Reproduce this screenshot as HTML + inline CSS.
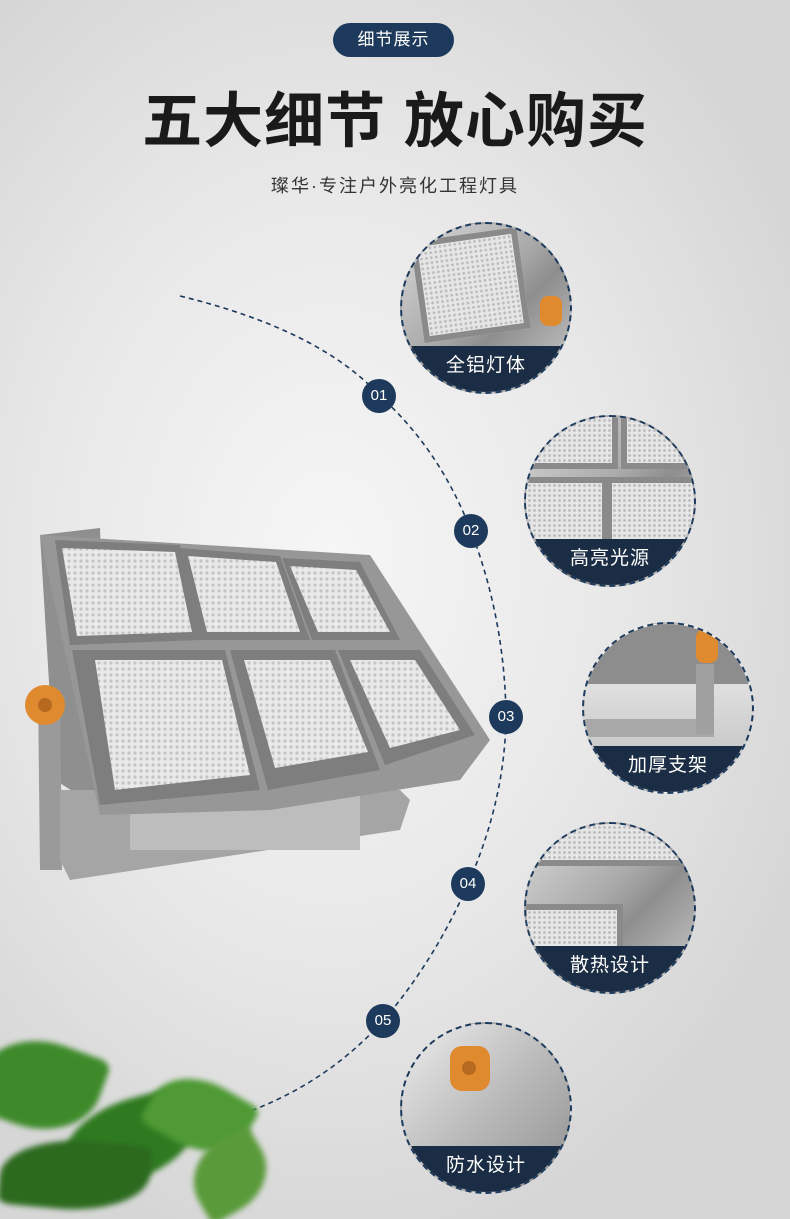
<!DOCTYPE html>
<html><head><meta charset="utf-8"><style>
html,body{margin:0;padding:0;width:790px;height:1219px;overflow:hidden}
body{position:relative;font-family:"Liberation Sans","Noto Sans CJK SC",sans-serif;
background:radial-gradient(ellipse 520px 700px at 330px 560px,#f6f6f6 0%,#e8e8e8 55%,#d6d6d6 100%);}
.pill{position:absolute;left:333px;top:23px;width:121px;height:34px;border-radius:17px;background:#1d3a5c;color:#fff;font-size:17px;line-height:34px;text-align:center;letter-spacing:1px}
.title{position:absolute;left:0;width:790px;top:84px;text-align:center;font-size:60px;font-weight:bold;color:#1a1a1a;letter-spacing:1px;line-height:76px}
.sub{position:absolute;left:0;width:790px;top:172px;text-align:center;font-size:18px;color:#333;letter-spacing:2px}
.dc{position:absolute;width:172px;height:172px;border-radius:50%;border:2px dashed #1d3a5c;overflow:hidden;box-sizing:border-box;
background:linear-gradient(135deg,#d9d9d9 0%,#a9a9a9 45%,#8e8e8e 60%,#cfcfcf 100%)}
.dc .hex{position:absolute;background-color:#e6e6e6;background-image:radial-gradient(circle,#bcbcbc 1.2px,transparent 1.6px);background-size:5px 5px;border:6px solid #8a8a8a}
.dc .band{position:absolute;left:0;right:0;bottom:0;height:46px;background:#1b2d44;color:#fff;font-size:19px;text-align:center;line-height:40px;letter-spacing:1px}
.num{position:absolute;width:34px;height:34px;border-radius:50%;background:#1d3a5c;color:#fff;font-size:15px;line-height:34px;text-align:center}
.leaf{position:absolute;border-radius:60% 10% 60% 10%;background:#3e8a2a;filter:blur(3px)}
</style></head><body>
<div class="pill">细节展示</div>
<div class="title">五大细节 放心购买</div>
<div class="sub">璨华·专注户外亮化工程灯具</div>

<svg style="position:absolute;left:0;top:0" width="790" height="1219">
<defs>
<pattern id="hx" width="6" height="6" patternUnits="userSpaceOnUse"><rect width="6" height="6" fill="#e9e9e9"/><circle cx="3" cy="3" r="1.6" fill="#c4c4c4"/></pattern>
</defs>
<path d="M180 296 Q 320 330 380 396 Q 440 450 471 531 Q 505 620 506 717 Q 505 800 468 884 Q 435 960 383 1021 Q 320 1090 230 1118" fill="none" stroke="#1d3a5c" stroke-width="1.6" stroke-dasharray="5 4"/>
<polygon points="40,535 100,528 110,815 55,780" fill="#8f8f8f"/>
<polygon points="38,690 60,690 62,870 40,870" fill="#9a9a9a"/>
<polygon points="60,790 400,790 410,800 400,830 70,880 60,860" fill="#a5a5a5"/>
<rect x="130" y="790" width="230" height="60" fill="#bdbdbd"/>
<polygon points="40,535 370,555 490,740 460,780 270,810 100,815" fill="#979797"/>
<polygon points="55,540 180,545 200,640 70,645" fill="#7e7e7e"/>
<polygon points="62,548 175,552 192,632 77,636" fill="url(#hx)"/>
<polygon points="180,548 280,556 310,640 200,640" fill="#7e7e7e"/>
<polygon points="188,556 276,562 300,632 207,632" fill="url(#hx)"/>
<polygon points="282,558 360,562 400,640 312,640" fill="#7e7e7e"/>
<polygon points="290,566 356,570 390,632 318,632" fill="url(#hx)"/>
<polygon points="72,650 225,650 260,790 100,805" fill="#7e7e7e"/>
<polygon points="95,660 222,660 250,775 115,790" fill="url(#hx)"/>
<polygon points="230,650 335,650 380,770 268,790" fill="#7e7e7e"/>
<polygon points="244,660 330,660 368,752 275,768" fill="url(#hx)"/>
<polygon points="338,650 420,650 475,735 385,765" fill="#7e7e7e"/>
<polygon points="350,660 415,660 460,730 390,748" fill="url(#hx)"/>
<circle cx="45" cy="705" r="20" fill="#e08a30"/><circle cx="45" cy="705" r="7" fill="#b56a20"/>
</svg>

<div class="leaf" style="left:-20px;top:1040px;width:120px;height:90px;transform:rotate(20deg)"></div>
<div class="leaf" style="left:60px;top:1100px;width:140px;height:80px;background:#2f7a20;transform:rotate(-15deg)"></div>
<div class="leaf" style="left:150px;top:1080px;width:100px;height:70px;background:#4f9a35;transform:rotate(30deg)"></div>
<div class="leaf" style="left:0;top:1140px;width:150px;height:70px;background:#2c6a1e;transform:rotate(5deg)"></div>
<div class="leaf" style="left:190px;top:1140px;width:80px;height:70px;background:#5a9a3a;transform:rotate(-30deg)"></div>

<div class="num" style="left:362px;top:379px">01</div>
<div class="num" style="left:454px;top:514px">02</div>
<div class="num" style="left:489px;top:700px">03</div>
<div class="num" style="left:451px;top:867px">04</div>
<div class="num" style="left:366px;top:1004px">05</div>

<div class="dc" style="left:400px;top:222px"><div class="hex" style="left:15px;top:10px;width:95px;height:90px;transform:rotate(-8deg)"></div><div style="position:absolute;left:138px;top:72px;width:22px;height:30px;border-radius:8px;background:#e08a30"></div><div class="band">全铝灯体</div></div>
<div class="dc" style="left:524px;top:415px"><div class="hex" style="left:-10px;top:-20px;width:90px;height:60px"></div><div class="hex" style="left:95px;top:-20px;width:90px;height:60px"></div><div class="hex" style="left:-10px;top:60px;width:80px;height:60px"></div><div class="hex" style="left:80px;top:60px;width:100px;height:60px"></div><div class="band">高亮光源</div></div>
<div class="dc" style="left:582px;top:622px;background:linear-gradient(180deg,#eee 0%,#ddd 40%,#bbb 100%)"><div style="position:absolute;left:0;top:0;width:172px;height:60px;background:#8d8d8d"></div><div style="position:absolute;left:0;top:95px;width:130px;height:18px;background:#a8a8a8"></div><div style="position:absolute;left:112px;top:40px;width:18px;height:70px;background:#a0a0a0"></div><div style="position:absolute;left:112px;top:5px;width:22px;height:34px;border-radius:8px;background:#e08a30"></div><div class="band">加厚支架</div></div>
<div class="dc" style="left:524px;top:822px"><div class="hex" style="left:10px;top:-10px;width:160px;height:40px"></div><div class="hex" style="left:-5px;top:80px;width:90px;height:50px"></div><div class="band">散热设计</div></div>
<div class="dc" style="left:400px;top:1022px;background:linear-gradient(135deg,#eee 0%,#bbb 50%,#8f8f8f 100%)"><div style="position:absolute;left:48px;top:22px;width:40px;height:45px;border-radius:12px;background:#e08a30"></div><div style="position:absolute;left:60px;top:37px;width:14px;height:14px;border-radius:50%;background:#b56a20"></div><div class="band">防水设计</div></div>
</body></html>
